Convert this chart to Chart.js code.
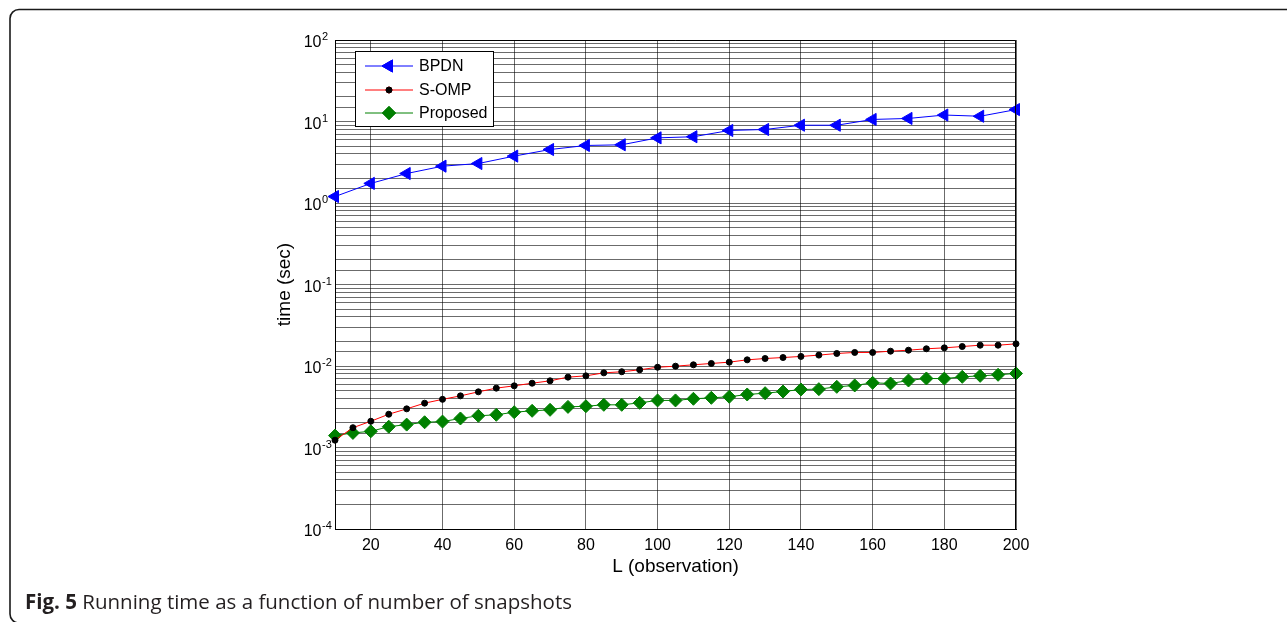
<!DOCTYPE html>
<html>
<head>
<meta charset="utf-8">
<title>Running time vs snapshots</title>
<script src="https://cdn.jsdelivr.net/npm/chart.js@4.4.1/dist/chart.umd.min.js"></script>
<style>
  html, body { margin: 0; padding: 0; background: #fff; }
  canvas { display: block; }
</style>
</head>
<body>
<canvas id="chart" width="1287" height="622"></canvas>
<script>
// L values (observation count)
const lCoarse = [10, 20, 30, 40, 50, 60, 70, 80, 90, 100, 110, 120, 130, 140, 150, 160, 170, 180, 190, 200];
const lFine = [10, 15, 20, 25, 30, 35, 40, 45, 50, 55, 60, 65, 70, 75, 80, 85, 90, 95, 100, 105,
  110, 115, 120, 125, 130, 135, 140, 145, 150, 155, 160, 165, 170, 175, 180, 185, 190, 195, 200];

// running time in seconds
const bpdn = [1.2, 1.74, 2.3, 2.83, 3.05, 3.76, 4.53, 5.08, 5.18, 6.3, 6.5, 7.76, 7.98, 9.0, 9.0, 10.6, 10.9, 12.0, 11.6, 14.0];
const somp = [0.00123, 0.00175, 0.0021, 0.00256, 0.00298, 0.0035, 0.0039, 0.0043, 0.00482, 0.00535,
  0.00571, 0.00615, 0.00658, 0.0073, 0.00757, 0.00824, 0.0085, 0.00898, 0.00966, 0.00995,
  0.01035, 0.01074, 0.01115, 0.0119, 0.01236, 0.0127, 0.0131, 0.0136, 0.01424, 0.01466,
  0.01466, 0.0152, 0.01563, 0.01626, 0.0167, 0.01734, 0.018, 0.018, 0.0187];
const proposed = [0.0014, 0.00151, 0.00158, 0.0018, 0.00191, 0.00204, 0.00208, 0.00227, 0.00245, 0.00252,
  0.00271, 0.00282, 0.0029, 0.00315, 0.00321, 0.00334, 0.00334, 0.00353, 0.00378, 0.00378,
  0.00396, 0.00407, 0.00419, 0.00447, 0.00464, 0.00486, 0.00515, 0.0052, 0.00555, 0.00577,
  0.00622, 0.0061, 0.00664, 0.00703, 0.007, 0.00736, 0.00757, 0.0078, 0.0081];

const xTicks = [20, 40, 60, 80, 100, 120, 140, 160, 180, 200];
const yExponents = [2, 1, 0, -1, -2, -3, -4];
const seriesNames = ["BPDN", "S-OMP", "Proposed"];

const FONT = "'Liberation Sans', Arial, Helvetica, sans-serif";
const toXY = (xs, ys) => xs.map((x, i) => ({ x: x, y: ys[i] }));

// axes titles, y labels with exponents, box, legend, caption and frame
const decorations = {
  id: "decorations",
  afterDraw(chart) {
    const ctx = chart.ctx;
    const area = chart.chartArea;
    const ys = chart.scales.y;
    ctx.save();

    // box on top and right
    ctx.strokeStyle = "#000";
    ctx.lineWidth = 1;
    ctx.beginPath();
    ctx.moveTo(area.left, area.top + 0.5);
    ctx.lineTo(area.right - 0.5, area.top + 0.5);
    ctx.lineTo(area.right - 0.5, area.bottom);
    ctx.stroke();

    // y tick labels 10^n
    ctx.fillStyle = "#000";
    ctx.textBaseline = "alphabetic";
    yExponents.forEach(e => {
      const y = ys.getPixelForValue(Math.pow(10, e));
      ctx.font = "16px " + FONT;
      ctx.textAlign = "right";
      ctx.fillText("10", 321.5, y + 7);
      ctx.font = "11px " + FONT;
      ctx.textAlign = "left";
      ctx.fillText(String(e), 322, y);
    });

    // axis titles
    ctx.font = "19px " + FONT;
    ctx.textAlign = "center";
    ctx.textBaseline = "middle";
    ctx.fillText("L (observation)", (area.left + area.right) / 2, 567);
    ctx.save();
    ctx.translate(285, (area.top + area.bottom) / 2);
    ctx.rotate(-Math.PI / 2);
    ctx.fillText("time (sec)", 0, 0);
    ctx.restore();

    // legend
    const lx = 355.5, ly = 51.5, lw = 138, lh = 75;
    ctx.fillStyle = "#fff";
    ctx.fillRect(lx, ly, lw, lh);
    ctx.strokeStyle = "#000";
    ctx.lineWidth = 1;
    ctx.strokeRect(lx, ly, lw, lh);
    const rows = [66, 90, 113];
    chart.data.datasets.forEach((ds, i) => {
      const y = rows[i];
      ctx.strokeStyle = ds.borderColor;
      ctx.lineWidth = 1;
      ctx.beginPath();
      ctx.moveTo(365, y);
      ctx.lineTo(413, y);
      ctx.stroke();
      Chart.helpers.drawPoint(ctx, {
        pointStyle: ds.pointStyle,
        rotation: ds.pointRotation || 0,
        radius: ds.pointRadius,
        borderWidth: 1
      }, 389, y);
      ctx.fillStyle = ds.pointBackgroundColor;
      ctx.strokeStyle = ds.pointBorderColor;
      ctx.fill();
      ctx.stroke();
      ctx.fillStyle = "#000";
      ctx.font = "16px " + FONT;
      ctx.textAlign = "left";
      ctx.textBaseline = "middle";
      ctx.fillText(seriesNames[i], 419, y + 1);
    });

    // frame
    ctx.strokeStyle = "#1a1a1a";
    ctx.lineWidth = 1.6;
    ctx.beginPath();
    ctx.moveTo(1287, 9.5);
    ctx.lineTo(19, 9.5);
    ctx.arcTo(10, 9.5, 10, 18.5, 9);
    ctx.lineTo(10, 614);
    ctx.arcTo(10, 623, 19, 623, 9);
    ctx.stroke();

    // caption
    ctx.fillStyle = "#231f20";
    ctx.textAlign = "left";
    ctx.textBaseline = "alphabetic";
    ctx.font = "bold 20.5px 'Open Sans', " + FONT;
    ctx.fillText("Fig. 5", 25, 609);
    const w = ctx.measureText("Fig. 5").width;
    ctx.font = "20.5px 'Open Sans', " + FONT;
    ctx.fillText(" Running time as a function of number of snapshots", 25 + w, 609);

    ctx.restore();
  }
};

const ctx = document.getElementById("chart").getContext("2d");
new Chart(ctx, {
  type: "line",
  data: {
    datasets: [
      {
        label: seriesNames[0],
        data: toXY(lCoarse, bpdn),
        borderColor: "#0000ff",
        borderWidth: 1,
        pointStyle: "triangle",
        pointRotation: -90,
        pointRadius: 7,
        pointHoverRadius: 7,
        pointBackgroundColor: "#0000ff",
        pointBorderColor: "#0000ff",
        clip: false
      },
      {
        label: seriesNames[1],
        data: toXY(lFine, somp),
        borderColor: "#ff0000",
        borderWidth: 1,
        pointStyle: "circle",
        pointRadius: 3,
        pointHoverRadius: 3,
        pointBackgroundColor: "#000",
        pointBorderColor: "#000",
        clip: false
      },
      {
        label: seriesNames[2],
        data: toXY(lFine, proposed),
        borderColor: "#008000",
        borderWidth: 1,
        pointStyle: "rectRot",
        pointRadius: 6.5,
        pointHoverRadius: 6.5,
        pointBackgroundColor: "#008000",
        pointBorderColor: "#008000",
        clip: false
      }
    ]
  },
  options: {
    responsive: false,
    animation: false,
    devicePixelRatio: 1,
    layout: { padding: { top: 40, right: 271, bottom: 0, left: 0 } },
    plugins: {
      legend: { display: false },
      tooltip: { enabled: false }
    },
    scales: {
      x: {
        type: "linear",
        min: 10,
        max: 200,
        afterBuildTicks: s => { s.ticks = xTicks.map(v => ({ value: v })); },
        afterFit: s => { s.height = 93; },
        grid: { color: "rgba(0,0,0,0.58)", lineWidth: 1, drawTicks: false },
        border: { display: true, color: "#000", width: 1 },
        ticks: {
          padding: 7,
          color: "#000",
          maxRotation: 0,
          autoSkip: false,
          font: { family: FONT, size: 16 }
        }
      },
      y: {
        type: "logarithmic",
        min: 1e-4,
        max: 100,
        afterFit: s => { s.width = 335; },
        grid: { color: "rgba(0,0,0,0.58)", lineWidth: 1, drawTicks: false },
        border: { display: true, color: "#000", width: 1 },
        ticks: { display: false }
      }
    }
  },
  plugins: [decorations]
});
</script>
</body>
</html>
